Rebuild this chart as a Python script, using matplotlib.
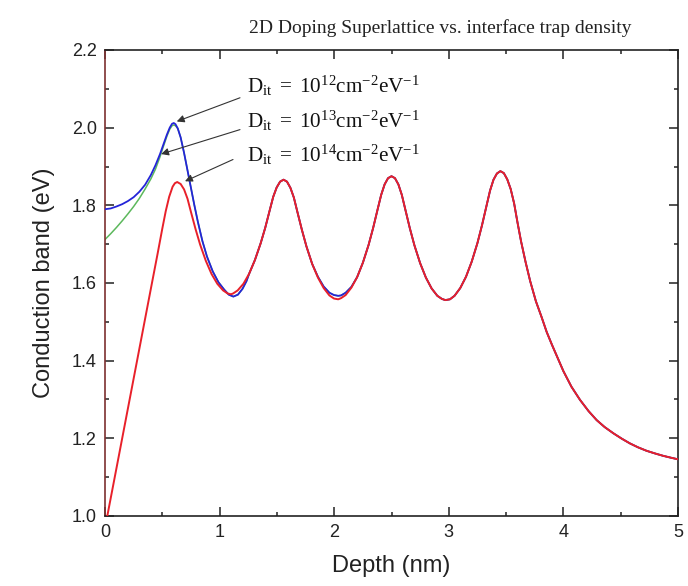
import matplotlib
matplotlib.use("Agg")
import matplotlib.pyplot as plt

# ---- data ----
# Dit = 1e14 (red), full curve
red_x = [0.02, 0.10, 0.20, 0.30, 0.40, 0.46, 0.50, 0.53, 0.56, 0.59, 0.61, 0.63,
         0.66, 0.69, 0.72, 0.75, 0.79, 0.83, 0.88, 0.93, 0.98, 1.03, 1.07, 1.10,
         1.118, 1.158, 1.208, 1.258, 1.308, 1.358, 1.398, 1.438, 1.468, 1.498, 1.528, 1.558,
         1.588, 1.618, 1.648, 1.678, 1.718, 1.758, 1.808, 1.858, 1.908, 1.958, 1.998, 2.035,
         2.06, 2.10, 2.15, 2.20, 2.25, 2.30, 2.34, 2.38, 2.41, 2.44, 2.47, 2.50,
         2.53, 2.56, 2.59, 2.62, 2.66, 2.70, 2.75, 2.80, 2.85, 2.90, 2.94, 2.97,
         3.01, 3.05, 3.10, 3.15, 3.20, 3.25, 3.29, 3.33, 3.36, 3.39, 3.42, 3.45,
         3.48, 3.51, 3.54, 3.57, 3.60, 3.63, 3.67, 3.71, 3.76, 3.81, 3.854, 3.90, 3.95,
         4.00, 4.07, 4.145, 4.22, 4.29, 4.36, 4.436, 4.51, 4.58, 4.65, 4.725, 4.80, 4.87, 4.94, 5.00]
red_y = [1.000, 1.123, 1.277, 1.431, 1.585, 1.677, 1.740, 1.785, 1.822, 1.848, 1.857, 1.860,
         1.855, 1.841, 1.817, 1.783, 1.739, 1.699, 1.657, 1.623, 1.598, 1.581, 1.573, 1.571,
         1.573, 1.581, 1.598, 1.624, 1.659, 1.702, 1.742, 1.788, 1.822, 1.846, 1.861, 1.866,
         1.861, 1.845, 1.820, 1.784, 1.737, 1.694, 1.649, 1.614, 1.587, 1.568, 1.560, 1.558,
         1.561, 1.569, 1.588, 1.615, 1.652, 1.698, 1.742, 1.791, 1.827, 1.854, 1.870, 1.875,
         1.870, 1.854, 1.827, 1.790, 1.741, 1.697, 1.651, 1.614, 1.586, 1.567, 1.559, 1.556,
         1.558, 1.567, 1.587, 1.616, 1.655, 1.703, 1.749, 1.800, 1.838, 1.866, 1.882, 1.888,
         1.883, 1.867, 1.842, 1.805, 1.755, 1.708, 1.654, 1.605, 1.553, 1.512, 1.474, 1.441, 1.407,
         1.373, 1.333, 1.299, 1.270, 1.247, 1.229, 1.213, 1.199, 1.187, 1.177, 1.168, 1.161, 1.155, 1.150, 1.146]

# Dit = 1e12 (blue): parts where it differs from the red curve
blue_start_x = [0.00, 0.05, 0.10, 0.15, 0.20, 0.25, 0.30, 0.35, 0.40, 0.44, 0.48, 0.51, 0.54,
                0.565, 0.585, 0.60, 0.615, 0.635, 0.66, 0.69, 0.72, 0.75, 0.78, 0.81, 0.85,
                0.89, 0.94, 0.99, 1.04, 1.08, 1.12, 1.16, 1.20, 1.235]
blue_start_y = [1.790, 1.792, 1.797, 1.803, 1.811, 1.821, 1.835, 1.853, 1.878, 1.903, 1.932, 1.957, 1.982,
                2.000, 2.010, 2.012, 2.009, 1.998, 1.975, 1.935, 1.890, 1.845, 1.800, 1.758, 1.708,
                1.668, 1.630, 1.602, 1.583, 1.570, 1.565, 1.570, 1.585, 1.605]
blue_valley_x = [1.858, 1.908, 1.958, 1.998, 2.035, 2.06, 2.10, 2.15]
blue_valley_y = [1.616, 1.591, 1.575, 1.569, 1.567, 1.568, 1.575, 1.590]

# Dit = 1e13 (green): distinct start, then follows the blue curve
green_x = [0.00, 0.05, 0.10, 0.15, 0.20, 0.25, 0.30, 0.35, 0.40, 0.44, 0.48, 0.51, 0.54,
           0.565, 0.585, 0.60, 0.615]
green_y = [1.712, 1.727, 1.743, 1.760, 1.778, 1.797, 1.818, 1.842, 1.868, 1.893, 1.925, 1.952, 1.978,
           1.996, 2.005, 2.007, 2.005]

labels = [r"$\mathrm{D_{it}\ =\ 10^{12}cm^{-2}eV^{-1}}$",
          r"$\mathrm{D_{it}\ =\ 10^{13}cm^{-2}eV^{-1}}$",
          r"$\mathrm{D_{it}\ =\ 10^{14}cm^{-2}eV^{-1}}$"]
label_xy = [(1.236, 2.089), (1.236, 1.999), (1.236, 1.913)]
arrow_head = [(0.626, 2.016), (0.49, 1.932), (0.698, 1.862)]
arrow_tail = [(1.178, 2.077), (1.178, 1.995), (1.117, 1.918)]

title = "2D Doping Superlattice vs. interface trap density"
xlabel = "Depth (nm)"
ylabel = "Conduction band (eV)"

# ---- build full series ----
blue_full_x, blue_full_y = [], []
for seg_x, seg_y in [(blue_start_x, blue_start_y), (blue_valley_x, blue_valley_y)]:
    last = blue_full_x[-1] if blue_full_x else -1
    blue_full_x += [x for x in red_x if last < x < seg_x[0]]
    blue_full_y += [y for x, y in zip(red_x, red_y) if last < x < seg_x[0]]
    blue_full_x += seg_x
    blue_full_y += seg_y
blue_full_y += [y for x, y in zip(red_x, red_y) if x > blue_full_x[-1]]
blue_full_x += [x for x in red_x if x > blue_full_x[-1]]

green_full_x = green_x + [x for x in blue_full_x if x > green_x[-1]]
green_full_y = green_y + [y for x, y in zip(blue_full_x, blue_full_y) if x > green_x[-1]]

plt.rcParams['mathtext.fontset'] = 'custom'
plt.rcParams['mathtext.rm'] = 'Liberation Serif'
plt.rcParams['mathtext.it'] = 'Liberation Serif:italic'
plt.rcParams['mathtext.bf'] = 'Liberation Serif:bold'

fig = plt.figure(figsize=(6.88, 5.86), dpi=100)
ax = fig.add_axes([105/688, 1-516/586, (678-105)/688, (516-50)/586])

ax.plot(green_full_x, green_full_y, color='#5cb85c', lw=1.1, zorder=2)
ax.plot(blue_full_x, blue_full_y, color='#2424d8', lw=1.3, zorder=3)
ax.plot(red_x, red_y, color='#e8202a', lw=1.4, zorder=4)

ax.set_xlim(0, 5)
ax.set_ylim(1.0, 2.2)
ax.set_xticks([0, 1, 2, 3, 4, 5])
ax.set_xticks([0.5, 1.5, 2.5, 3.5, 4.5], minor=True)
ax.set_yticks([1.0, 1.2, 1.4, 1.6, 1.8, 2.0, 2.2])
ax.set_yticks([1.1, 1.3, 1.5, 1.7, 1.9, 2.1], minor=True)
ax.set_yticklabels([f"{v:.1f}" for v in [1.0, 1.2, 1.4, 1.6, 1.8, 2.0, 2.2]])

ax.tick_params(which='both', direction='in', top=True, right=True, width=1.1, colors='#222222')
ax.tick_params(which='major', length=6.5, labelsize=13, pad=6)
ax.tick_params(which='minor', length=3.2)
for lab in ax.get_xticklabels() + ax.get_yticklabels():
    lab.set_fontfamily('Liberation Sans')
    lab.set_color('#222222')

for side in ['top', 'right', 'bottom']:
    ax.spines[side].set_linewidth(1.2)
    ax.spines[side].set_color('#222222')
ax.spines['left'].set_linewidth(1.2)
ax.spines['left'].set_color('#7d3030')

ax.set_xlabel(xlabel, fontfamily='Liberation Sans', fontsize=17, color='#222222', labelpad=10)
ax.set_ylabel(ylabel, fontfamily='Liberation Sans', fontsize=17, color='#222222', labelpad=12)

fig.text(440/688, 1-28/586, title, fontfamily='Liberation Serif', fontsize=14,
         ha='center', va='center', color='#222222')

for lab, (tx, ty), head, tail in zip(labels, label_xy, arrow_head, arrow_tail):
    ax.text(tx, ty, lab, fontsize=15.2, ha='left', va='baseline', color='#111111', zorder=6)
    ax.annotate('', xy=head, xytext=tail,
                arrowprops=dict(arrowstyle='-|>', color='#333333', lw=0.8,
                                mutation_scale=11, shrinkA=0, shrinkB=0), zorder=5)

fig.savefig('out.png', dpi=100)
